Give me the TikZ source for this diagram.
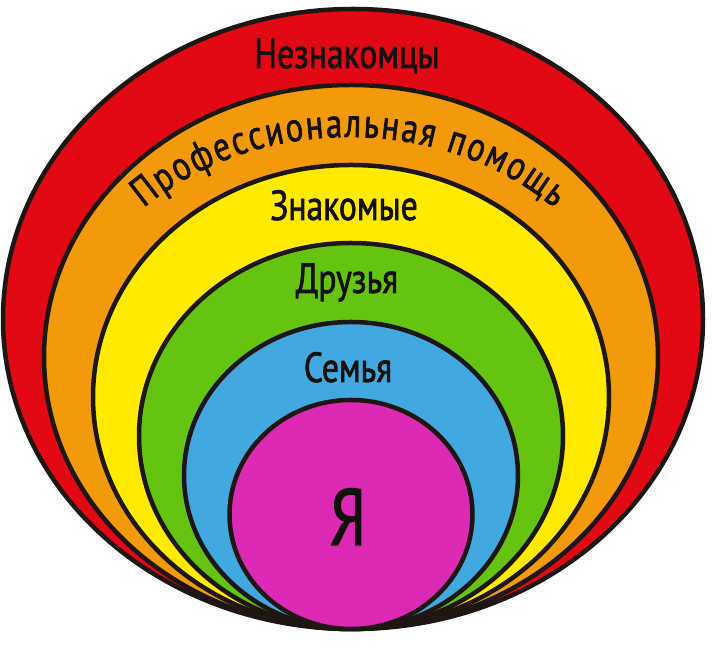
\documentclass[tikz,border=0pt]{standalone}
\usepackage{fontspec}
\setmainfont{PT Sans}[FakeStretch=0.8,FakeBold=1.6]
\usetikzlibrary{decorations.text}
\definecolor{outline}{RGB}{30,22,18}
\definecolor{ink}{RGB}{20,16,14}
\definecolor{ringred}{RGB}{226,8,20}
\definecolor{ringorange}{RGB}{243,154,10}
\definecolor{ringyellow}{RGB}{255,234,0}
\definecolor{ringgreen}{RGB}{100,196,16}
\definecolor{ringblue}{RGB}{66,168,224}
\definecolor{ringpink}{RGB}{220,42,180}
\begin{document}
\begin{tikzpicture}[x=1pt,y=1pt]
	\tikzset{ring/.style={draw=outline,line width=4.5pt},word/.style={text=ink,font=\fontsize{42}{42}\selectfont,anchor=base,inner sep=0pt}}
	\useasboundingbox(0,0)rectangle(716,655);
	\draw[ring,fill=ringred](353,336)ellipse[x radius=350,y radius=310];
	\draw[ring,fill=ringorange](351,298)ellipse[x radius=307,y radius=272];
	\draw[ring,fill=ringyellow](351,258)ellipse[x radius=258,y radius=232];
	\draw[ring,fill=ringgreen](351,219)ellipse[x radius=212,y radius=193];
	\draw[ring,fill=ringblue](351,179.5)ellipse[x radius=167,y radius=153.5];
	\draw[ring,fill=ringpink](351,140.5)ellipse[x radius=121.5,y radius=114.5];
	\node(strangers)at(347,587)[word]{Незнакомцы};
	\coordinate(helpstart)at(143.9,447.1);
	\path[decorate,decoration={text along path,text={|\color{ink}\fontsize{41}{41}\selectfont|Профессиональная помощь},text align=fit to path}](helpstart)arc[start angle=135,end angle=45,x radius=290,y radius=242];
	\node(acquaint)at(344,435)[word]{Знакомые};
	\node(friends)at(347,362)[word]{Друзья};
	\node(family)at(348,273)[word]{Семья};
	\node(me)at(348,110)[word,font=\fontsize{80}{80}\selectfont]{Я};
\end{tikzpicture}
\end{document}
